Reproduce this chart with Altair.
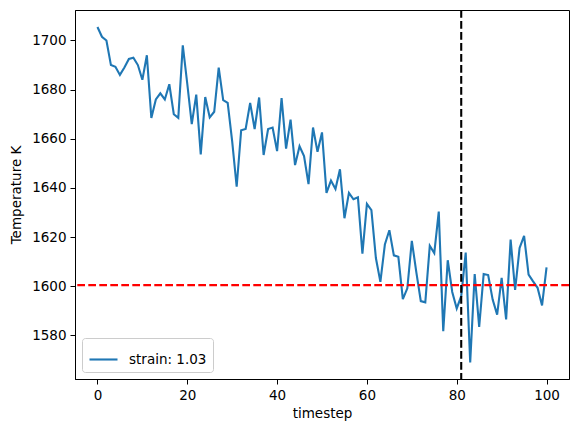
import altair as alt
import pandas as pd

timestep = list(range(101))
temperature = [
    1705.5, 1701.5, 1700.0, 1690.0, 1689.3, 1686.0, 1689.0, 1692.5, 1693.0, 1690.0,
    1684.0, 1694.0, 1668.5, 1676.0, 1678.5, 1676.0, 1682.2, 1670.0, 1668.5, 1698.0,
    1682.4, 1666.0, 1678.0, 1653.7, 1677.0, 1668.7, 1671.0, 1689.0, 1675.7, 1674.6,
    1659.0, 1640.5, 1663.5, 1664.0, 1674.6, 1664.0, 1676.8, 1653.4, 1664.0, 1664.6,
    1655.0, 1676.6, 1656.0, 1667.8, 1649.3, 1657.0, 1653.0, 1641.6, 1664.6, 1654.7,
    1662.6, 1638.0, 1643.0, 1639.6, 1647.6, 1627.7, 1638.0, 1635.4, 1636.2, 1613.3,
    1633.5, 1631.0, 1611.5, 1601.8, 1617.0, 1622.8, 1612.6, 1612.0, 1594.8, 1599.2,
    1618.5, 1605.8, 1594.0, 1593.5, 1616.5, 1613.5, 1630.4, 1581.7, 1610.6, 1597.7,
    1591.0, 1596.0, 1613.7, 1569.0, 1605.0, 1583.5, 1605.0, 1604.6, 1594.6, 1588.5,
    1603.4, 1586.5, 1619.0, 1598.5, 1615.6, 1620.5, 1604.8, 1602.0, 1599.4, 1592.2,
    1607.7,
]
series_label = "strain: 1.03"
hline_value = [1600.5]
vline_value = [81]
x_ticks = [0, 20, 40, 60, 80, 100]
y_ticks = [1580, 1600, 1620, 1640, 1660, 1680, 1700]

df = pd.DataFrame({"timestep": timestep, "temperature": temperature,
                   "series": [series_label] * len(timestep)})

xscale = alt.Scale(domain=[-5, 105], nice=False, zero=False)
yscale = alt.Scale(domain=[1562.3, 1712.4], nice=False, zero=False)

line = alt.Chart(df).mark_line(strokeWidth=2.1, clip=True).encode(
    x=alt.X("timestep:Q", scale=xscale, title="timestep",
            axis=alt.Axis(values=x_ticks, format="d")),
    y=alt.Y("temperature:Q", scale=yscale, title="Temperature K",
            axis=alt.Axis(values=y_ticks, format="d")),
    color=alt.Color("series:N", scale=alt.Scale(range=["#1f77b4"]),
                    legend=alt.Legend(title=None)),
)

hrule = alt.Chart(pd.DataFrame({"y": hline_value})).mark_rule(
    color="red", strokeWidth=2.1, strokeDash=[7.7, 3.3]
).encode(y=alt.Y("y:Q", scale=yscale))

vrule = alt.Chart(pd.DataFrame({"x": vline_value})).mark_rule(
    color="black", strokeWidth=2.1, strokeDash=[7.7, 3.3]
).encode(x=alt.X("x:Q", scale=xscale))

chart = alt.layer(line, hrule, vrule).properties(
    width=494, height=369,
    autosize=alt.AutoSizeParams(type="none"),
    padding={"left": 67, "top": 2, "right": 4, "bottom": 46},
).configure_view(
    stroke="black", strokeWidth=1
).configure_axis(
    grid=False, domainColor="black", domainWidth=1, tickColor="black",
    tickSize=5, labelColor="black", titleColor="black",
    labelFont="DejaVu Sans", titleFont="DejaVu Sans",
    labelFontSize=13.5, titleFontSize=13.5, titleFontWeight="normal",
    labelPadding=4,
).configure_axisX(titlePadding=5).configure_axisY(titlePadding=8).configure_legend(
    orient="bottom-left", offset=7, padding=6, fillColor="white",
    strokeColor="#cccccc", cornerRadius=3, symbolType="stroke",
    symbolStrokeWidth=2.1, symbolSize=784, labelFont="DejaVu Sans",
    labelFontSize=13.5, labelColor="black", labelOffset=10,
)

chart.save("out.html", embed_options={"renderer": "svg", "actions": False})
